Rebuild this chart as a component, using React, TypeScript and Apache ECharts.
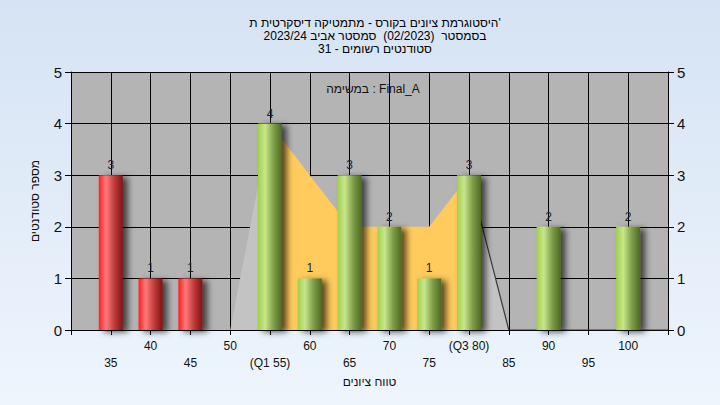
import React, { useEffect, useRef } from "react";
import * as echarts from "echarts";

const titleLines = [
  "היסטוגרמת ציונים בקורס - מתמטיקה דיסקרטית ת'",
  "בסמסטר  (02/2023)  סמסטר אביב 2023/24",
  "סטודנטים רשומים - 31",
];
const taskLabel = "במשימה : Final_A";
const xAxisName = "טווח ציונים";
const yAxisName = "מספר סטודנטים";

const categories = [35, 40, 45, 50, 55, 60, 65, 70, 75, 80, 85, 90, 95, 100];
const counts = [3, 1, 1, 0, 4, 1, 3, 2, 1, 3, 0, 2, 0, 2];
const curve = [0, 0, 0, 0, 4, 3, 2, 2, 2, 3, 0, 0, 0, 0];
const Q1 = 55;
const Q3 = 80;
const FAIL_BELOW = 50;
const X_MIN = 30;
const X_MAX = 105;
const X_STEP = 5;
const Y_MIN = 0;
const Y_MAX = 5;

const FONT = "Liberation Sans, Arial, sans-serif";

const redGrad = {
  type: "linear", x: 0, y: 0, x2: 1, y2: 0,
  colorStops: [
    { offset: 0, color: "#FF1E1E" },
    { offset: 0.3, color: "#FF7A7A" },
    { offset: 0.65, color: "#C03A3A" },
    { offset: 1, color: "#7A1616" },
  ],
};
const greenGrad = {
  type: "linear", x: 0, y: 0, x2: 1, y2: 0,
  colorStops: [
    { offset: 0, color: "#A2D048" },
    { offset: 0.3, color: "#C8E68C" },
    { offset: 0.65, color: "#7E9E48" },
    { offset: 1, color: "#4C6A22" },
  ],
};

export default function App() {
  const ref = useRef<HTMLDivElement>(null);
  useEffect(() => {
    if (!ref.current) return;
    const chart = echarts.init(ref.current, null, { renderer: "svg" });

    const pts = categories.map((c, i) => [c, curve[i]]);
    const leftSeg = pts.filter((p) => p[0] <= Q1);
    const midSeg = pts.filter((p) => p[0] >= Q1 && p[0] <= Q3);
    const rightSeg = [...pts.filter((p) => p[0] >= Q3), [X_MAX, 0]];

    const barData = categories
      .map((c, i) => ({
        value: [c, counts[i]],
        itemStyle: { color: c < FAIL_BELOW ? redGrad : greenGrad },
      }))
      .filter((d) => d.value[1] > 0);

    chart.setOption({
      animation: false,
      backgroundColor: {
        type: "linear", x: 0, y: 0, x2: 0, y2: 1,
        colorStops: [
          { offset: 0, color: "#D5E3F4" },
          { offset: 1, color: "#EEF5FD" },
        ],
      },
      title: [
        {
          text: titleLines.join("\n"),
          left: 370,
          top: 11,
          textAlign: "center",
          textStyle: { fontFamily: FONT, fontSize: 12, fontWeight: "normal", color: "#000", lineHeight: 13 },
        },
        {
          text: taskLabel,
          left: 368,
          top: 78,
          textAlign: "center",
          textStyle: { fontFamily: FONT, fontSize: 12, fontWeight: "normal", color: "#111" },
        },
      ],
      grid: {
        left: 71, right: 52, top: 72, bottom: 75,
        show: true, backgroundColor: "#B4B4B4", borderWidth: 0,
      },
      xAxis: {
        type: "value",
        min: X_MIN, max: X_MAX, interval: X_STEP,
        name: xAxisName,
        nameLocation: "middle",
        nameGap: 45,
        nameTextStyle: { fontFamily: FONT, fontSize: 12, color: "#111" },
        axisLine: { show: true, onZero: false, lineStyle: { color: "#000", width: 1 } },
        axisTick: { show: true, length: 5, lineStyle: { color: "#000" } },
        splitLine: { show: true, lineStyle: { color: "#000", width: 1 } },
        axisLabel: {
          fontFamily: FONT, fontSize: 12, color: "#111", margin: 7, lineHeight: 17,
          formatter: (v: number) => {
            if (v < categories[0] || v > categories[categories.length - 1]) return "";
            const idx = Math.round((v - categories[0]) / X_STEP);
            let s = String(v);
            if (v === Q1) s = `(Q1 ${v})`;
            if (v === Q3) s = `(Q3 ${v})`;
            return idx % 2 === 0 ? "\n" + s : s;
          },
        },
      },
      yAxis: [
        {
          type: "value", min: Y_MIN, max: Y_MAX, interval: 1, position: "left",
          name: yAxisName, nameLocation: "middle", nameGap: 30, nameRotate: 90,
          nameTextStyle: { fontFamily: FONT, fontSize: 12, color: "#111" },
          axisLine: { show: true, lineStyle: { color: "#000" } },
          axisTick: { show: true, length: 6, lineStyle: { color: "#000" } },
          splitLine: { show: true, lineStyle: { color: "#000", width: 1 } },
          axisLabel: { fontFamily: FONT, fontSize: 15, color: "#111", margin: 9 },
        },
        {
          type: "value", min: Y_MIN, max: Y_MAX, interval: 1, position: "right",
          axisLine: { show: true, lineStyle: { color: "#000" } },
          axisTick: { show: true, length: 6, lineStyle: { color: "#000" } },
          splitLine: { show: false },
          axisLabel: { fontFamily: FONT, fontSize: 15, color: "#111", margin: 9 },
        },
      ],
      series: [
        {
          type: "line", data: leftSeg, symbol: "none", z: 1, silent: true,
          lineStyle: { opacity: 0 },
          areaStyle: { color: "#C3C3C3", opacity: 1 },
        },
        {
          type: "line", data: midSeg, symbol: "none", z: 1, silent: true,
          lineStyle: { opacity: 0 },
          areaStyle: { color: "#FFCB5C", opacity: 1 },
        },
        {
          type: "line", data: rightSeg, symbol: "none", z: 1, silent: true,
          lineStyle: { color: "#3A3A3A", width: 1.2 },
          areaStyle: { color: "#C3C3C3", opacity: 1 },
        },
        {
          type: "bar", data: barData, barWidth: 24, z: 3,
          itemStyle: {
            shadowColor: "rgba(0,0,0,0.65)", shadowBlur: 6, shadowOffsetX: 5, shadowOffsetY: 2,
          },
          label: {
            show: true, position: "top", distance: 4,
            fontFamily: FONT, fontSize: 12, color: "#1C1C30",
            formatter: (p: any) => String(p.value[1]),
          },
        },
      ],
    });
    return () => chart.dispose();
  }, []);
  return (
    <div
      ref={ref}
      style={{ position: "absolute", left: 0, top: 0, width: 720, height: 405 }}
    />
  );
}
